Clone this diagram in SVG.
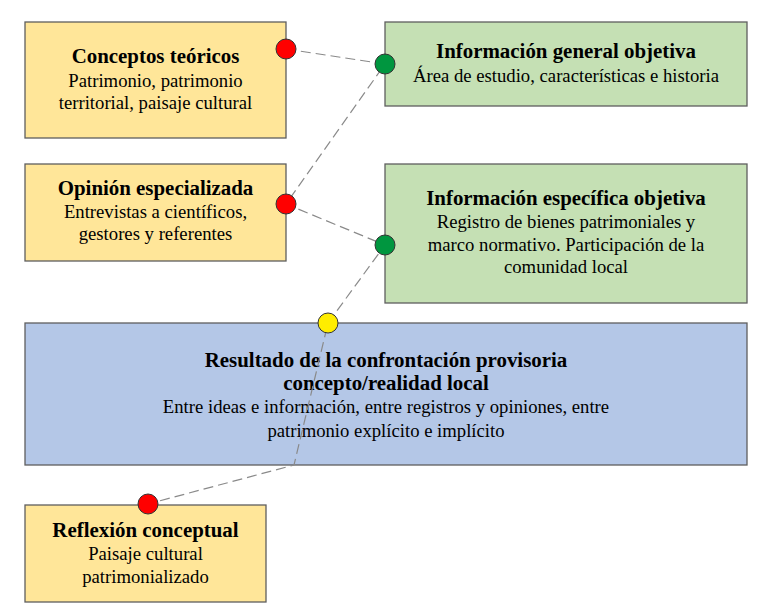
<svg xmlns="http://www.w3.org/2000/svg" width="766" height="609" viewBox="0 0 766 609">
<style>
.box{stroke:#5f5f5f;stroke-width:1.3}
.y{fill:#FFE699}.g{fill:#C5E0B4}.b{fill:#B4C7E7}
.t{font-weight:bold;font-size:20.9px}
.s{font-size:18.7px}
.c{stroke:#8a8a8a;stroke-width:1.2;stroke-dasharray:10,5;fill:none}
.dot{stroke:#333;stroke-width:1}
</style>
<rect width="766" height="609" fill="#fff"/>
<g font-family="Liberation Serif, serif" fill="#000" text-anchor="middle">
<g id="n1"><rect class="box y" x="25" y="22" width="261" height="116"/>
<text class="t" x="155.5" y="63">Conceptos teóricos</text>
<text class="s" x="155.5" y="87">Patrimonio, patrimonio</text>
<text class="s" x="155.5" y="109">territorial, paisaje cultural</text></g>
<g id="n2"><rect class="box y" x="25" y="164" width="261" height="97"/>
<text class="t" x="155.5" y="195">Opinión especializada</text>
<text class="s" x="155.5" y="218">Entrevistas a científicos,</text>
<text class="s" x="155.5" y="240">gestores y referentes</text></g>
<g id="n3"><rect class="box g" x="385" y="22" width="362" height="84"/>
<text class="t" x="566" y="58">Información general objetiva</text>
<text class="s" x="566" y="82">Área de estudio, características e historia</text></g>
<g id="n4"><rect class="box g" x="385" y="164" width="362" height="139"/>
<text class="t" x="566" y="205">Información específica objetiva</text>
<text class="s" x="566" y="228">Registro de bienes patrimoniales y</text>
<text class="s" x="566" y="251">marco normativo. Participación de la</text>
<text class="s" x="566" y="273">comunidad local</text></g>
<g id="n5"><rect class="box b" x="25" y="323" width="722" height="142"/>
<text class="t" x="386" y="367">Resultado de la confrontación provisoria</text>
<text class="t" x="386" y="390">concepto/realidad local</text>
<text class="s" x="386" y="413">Entre ideas e información, entre registros y opiniones, entre</text>
<text class="s" x="386" y="437">patrimonio explícito e implícito</text></g>
<g id="n6"><rect class="box y" x="25" y="505" width="241" height="97"/>
<text class="t" x="145.5" y="537">Reflexión conceptual</text>
<text class="s" x="145.5" y="560">Paisaje cultural</text>
<text class="s" x="145.5" y="583">patrimonializado</text></g>
</g>
<g id="connectors">
<path class="c" d="M286,49 L385,64 L286,204 L385,245 L328,323 L294,465 L148,504"/>
<circle class="dot" cx="286" cy="49" r="10" fill="#FF0000"/>
<circle class="dot" cx="385" cy="64" r="10" fill="#00963F"/>
<circle class="dot" cx="286" cy="204" r="10" fill="#FF0000"/>
<circle class="dot" cx="385" cy="245" r="10" fill="#00963F"/>
<circle class="dot" cx="328" cy="323" r="10" fill="#FFED00"/>
<circle class="dot" cx="148" cy="504" r="10" fill="#FF0000"/>
</g>
</svg>
